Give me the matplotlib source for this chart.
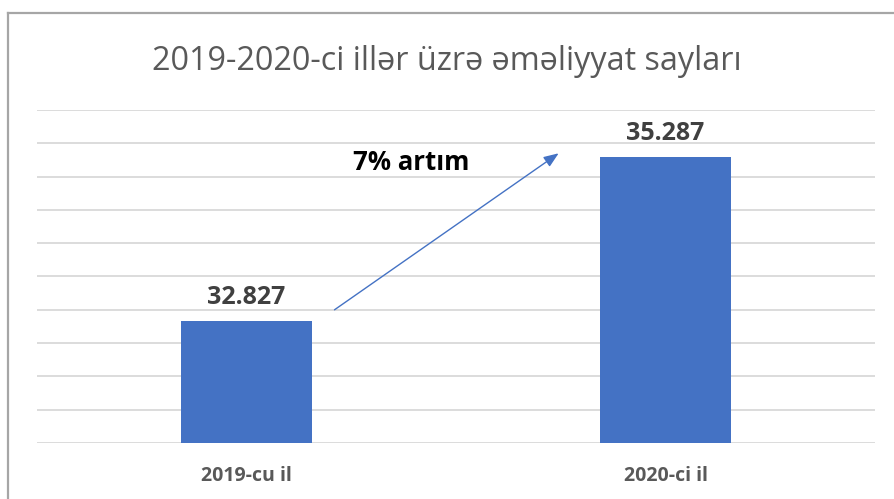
import matplotlib
matplotlib.use("Agg")
import matplotlib.pyplot as plt
from matplotlib.lines import Line2D

# data
years = ["2019-cu il", "2020-ci il"]
counts = [32827, 35287]
count_labels = ["32.827", "35.287"]
growth_text = "7% artım"
title = "2019-2020-ci illər üzrə əməliyyat sayları"

plt.rcParams['font.family'] = ['Open Sans', 'DejaVu Sans']

fig = plt.figure(figsize=(8.94, 4.99), dpi=100)
ax = fig.add_axes([37/894, 56/499, 838/894, 333/499])

x = list(range(len(years)))
ax.bar(x, counts, width=0.313, color='#4472C4', zorder=3)
for xi, v, lab in zip(x, counts, count_labels):
    ax.text(xi, v + 170, lab, ha='center', va='bottom', fontsize=18,
            fontweight='bold', color='#404040')

ax.set_xlim(-0.5, 1.5)
ax.set_ylim(31000, 36000)
ax.set_yticks(range(31000, 36001, 500))
ax.yaxis.grid(True, color='#D9D9D9', linewidth=1.3, zorder=0)
ax.tick_params(axis='y', left=False, labelleft=False)
ax.tick_params(axis='x', bottom=False, pad=13)
ax.set_xticks(x)
ax.set_xticklabels(years, fontsize=14, fontweight='bold', color='#595959')
for s in ax.spines.values():
    s.set_visible(False)

# growth arrow
ax.annotate("", xy=(0.745, 35350), xytext=(0.21, 33000),
            arrowprops=dict(arrowstyle='-|>,head_length=0.9,head_width=0.35',
                            color='#4472C4', lw=1.0, shrinkA=0, shrinkB=0),
            zorder=4)
ax.text(0.392, 35210, growth_text, ha='center', va='center', fontsize=18.5,
        fontweight='bold', color='black')

fig.text(0.5, 1 - 61/499, title, ha='center', va='center', fontsize=23.3,
         color='#595959')

# chart frame (left and top edges visible)
fig.add_artist(Line2D([8/894, 8/894], [0, 1 - 13/499], transform=fig.transFigure,
                      color='#A6A6A6', linewidth=1.6))
fig.add_artist(Line2D([8/894, 1], [1 - 13/499, 1 - 13/499], transform=fig.transFigure,
                      color='#A6A6A6', linewidth=1.6))

fig.savefig("out.png", dpi=100)
